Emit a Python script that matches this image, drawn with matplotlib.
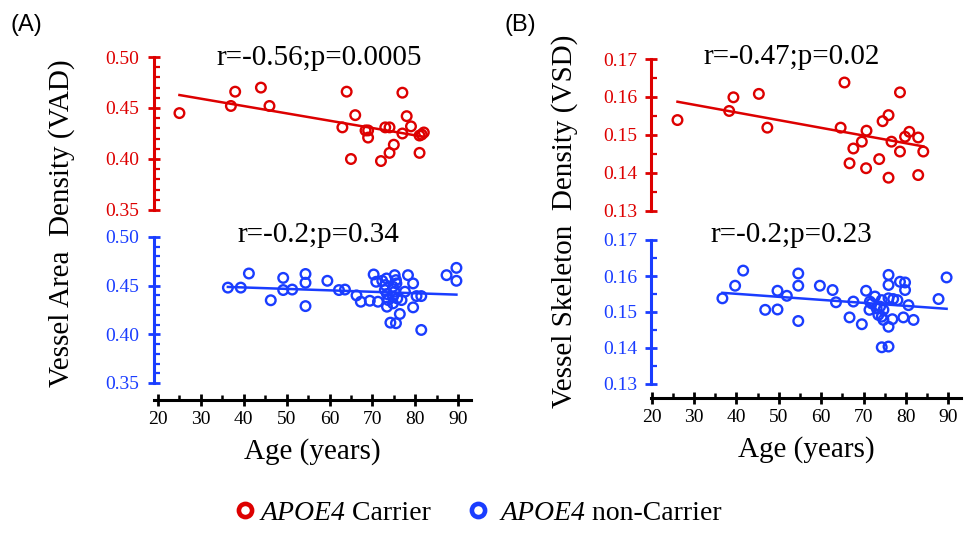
import numpy as np
import matplotlib
matplotlib.use("Agg")
import matplotlib.pyplot as plt
from matplotlib.ticker import MultipleLocator, FormatStrFormatter
from matplotlib.lines import Line2D

plt.rcParams['font.family'] = ['Liberation Serif', 'DejaVu Serif']

RED = '#dd0000'
BLUE = '#1a3dff'

# panel A: vessel area density (VAD)
a_car_age = [25, 37, 38, 44, 46, 63, 64, 65, 66, 68.4, 69, 69, 72, 73, 74, 74, 75,
             77, 77, 78, 79, 81, 81, 81.5, 82]
a_car_vad = [0.445, 0.452, 0.466, 0.470, 0.452, 0.431, 0.466, 0.400, 0.443, 0.428,
             0.428, 0.421, 0.398, 0.431, 0.431, 0.406, 0.414, 0.465, 0.425, 0.442,
             0.432, 0.423, 0.406, 0.424, 0.426]
a_non_age = [36.3, 39.3, 41.2, 46.3, 49.2, 49.2, 51.3, 54.4, 54.4, 54.4, 59.5, 62.2,
             63.6, 66.3, 67.3, 69.4, 70.3, 71.3, 70.9, 72.3, 73.0, 73.3, 72.9, 73.4,
             73.7, 73.4, 74.8, 74.8, 74.8, 75.2, 75.5, 75.6, 75.2, 75.8, 74.2, 75.5,
             76.4, 76.8, 77.6, 78.3, 79.5, 79.5, 80.3, 81.4, 81.4, 87.3, 89.6, 89.6]
a_non_vad = [0.448, 0.448, 0.4625, 0.435, 0.458, 0.4455, 0.446, 0.462, 0.453, 0.429,
             0.455, 0.4455, 0.446, 0.440, 0.4335, 0.4345, 0.4615, 0.4335, 0.454, 0.455,
             0.4506, 0.4574, 0.4455, 0.4414, 0.4352, 0.4284, 0.4318, 0.4386, 0.4489,
             0.4608, 0.4557, 0.4523, 0.4438, 0.4369, 0.412, 0.4114, 0.4209, 0.4352,
             0.4438, 0.4608, 0.4523, 0.4277, 0.4393, 0.4393, 0.4045, 0.4608, 0.4683,
             0.455]

# panel B: vessel skeleton density (VSD)
b_car_age = [26.1, 38.3, 39.3, 45.3, 47.3, 65.5, 64.6, 66.7, 67.6, 69.6, 70.7, 70.6,
             73.7, 74.5, 75.9, 75.9, 76.6, 78.6, 78.6, 79.8, 80.8, 82.9, 82.9, 84.1]
b_car_vsd = [0.1539, 0.1563, 0.1599, 0.1608, 0.1519, 0.1638, 0.1519, 0.1425, 0.1464,
             0.1482, 0.1511, 0.1412, 0.1436, 0.1536, 0.1552, 0.1387, 0.1482, 0.1612,
             0.1456, 0.1495, 0.1508, 0.1493, 0.1394, 0.1456]
b_non_age = [36.7, 39.7, 41.6, 46.8, 49.7, 49.7, 51.9, 54.6, 54.6, 54.6, 59.7, 62.7,
             63.5, 66.7, 67.6, 69.6, 70.6, 71.4, 71.5, 72.7, 71.9, 73.1, 73.5, 73.9,
             74.3, 74.3, 74.7, 74.7, 74.3, 75.9, 75.9, 75.9, 75.9, 75.9, 76.8, 77.0,
             78.0, 78.6, 79.8, 79.8, 79.4, 80.6, 81.8, 87.7, 89.6]
b_non_vsd = [0.1538, 0.1573, 0.1615, 0.1506, 0.1559, 0.1507, 0.1545, 0.1607, 0.1573,
             0.1475, 0.1573, 0.1561, 0.1527, 0.1485, 0.1529, 0.1466, 0.1559, 0.1506,
             0.1529, 0.1543, 0.1524, 0.151, 0.1492, 0.1515, 0.1533, 0.1487, 0.1478,
             0.1506, 0.1402, 0.1404, 0.1603, 0.1575, 0.1538, 0.1459, 0.148, 0.1536,
             0.1533, 0.1584, 0.1582, 0.1561, 0.1485, 0.1519, 0.1478, 0.1536, 0.1596]

stats = {'A': ("r=-0.56;p=0.0005", "r=-0.2;p=0.34"),
         'B': ("r=-0.47;p=0.02", "r=-0.2;p=0.23")}

W, H = 964, 533
fig = plt.figure(figsize=(W / 100, H / 100), dpi=100)


def px_box(l, r, t, b):
    return [l / W, 1 - b / H, (r - l) / W, (b - t) / H]


def style_y(ax, col, xlim, ylim, major, minor):
    for s in ('top', 'right'):
        ax.spines[s].set_visible(False)
    ax.spines['left'].set_color(col)
    ax.spines['left'].set_linewidth(2.2)
    ax.set_xlim(*xlim)
    ax.set_ylim(*ylim)
    ax.yaxis.set_major_locator(MultipleLocator(major))
    ax.yaxis.set_minor_locator(MultipleLocator(minor))
    ax.yaxis.set_major_formatter(FormatStrFormatter('%.2f'))
    ax.tick_params(axis='y', which='major', direction='inout', length=8, width=2,
                   color=col, labelcolor=col, labelsize=14, pad=6)
    ax.tick_params(axis='y', which='minor', direction='in', length=4, width=1.6, color=col)
    ax.patch.set_alpha(0)


def scatter_fit(ax, x, y, col):
    ax.scatter(x, y, s=48, facecolors='none', edgecolors=col, linewidths=1.7,
               clip_on=False, zorder=3)
    k, b0 = np.polyfit(x, y, 1)
    xx = np.array([min(x), max(x)])
    ax.plot(xx, k * xx + b0, color=col, lw=1.8, zorder=2)


def panel(l, r, xlim, red_tb, blue_tb, x_off, car, non, ylim, major, minor, txt,
          txt_x, txt_y):
    top = fig.add_axes(px_box(l, r, *red_tb))
    bot = fig.add_axes(px_box(l, r, *blue_tb))
    style_y(top, RED, xlim, ylim, major, minor)
    style_y(bot, BLUE, xlim, ylim, major, minor)
    top.spines['bottom'].set_visible(False)
    top.tick_params(axis='x', which='both', bottom=False, labelbottom=False)
    # shared age axis drawn below the blue block
    bot.spines['bottom'].set_position(('outward', x_off * 0.72))
    bot.spines['bottom'].set_linewidth(2.2)
    bot.xaxis.set_minor_locator(MultipleLocator(5))
    bot.tick_params(axis='x', which='major', direction='inout', length=8, width=2,
                    labelsize=14, pad=4)
    bot.tick_params(axis='x', which='minor', direction='in', length=3.5, width=1.8)
    bot.set_xticks(range(20, 91, 10))
    bot.set_xlabel("Age (years)", fontsize=21, labelpad=7)
    scatter_fit(top, *car, RED)
    scatter_fit(bot, *non, BLUE)
    top.text(txt_x, txt_y[0], txt[0], fontsize=21, ha='center', va='center',
             clip_on=False)
    bot.text(txt_x, txt_y[1], txt[1], fontsize=21, ha='center', va='center',
             clip_on=False)


panel(153.5, 471, (18.95, 93), (57, 210), (237, 383), 17, (a_car_age, a_car_vad),
      (a_non_age, a_non_vad), (0.35, 0.50), 0.05, 0.01, stats['A'],
      57.5, (0.4995, 0.502))
panel(651, 961, (19.85, 93), (59, 210.7), (240, 384), 14, (b_car_age, b_car_vsd),
      (b_non_age, b_non_vsd), (0.13, 0.17), 0.01, 0.005, stats['B'],
      53.0, (0.1705, 0.1714))

fig.text(62 / W, 1 - 223 / H, "Vessel Area  Density (VAD)", rotation=90,
         fontsize=21, ha='center', va='center')
fig.text(565 / W, 1 - 221 / H, "Vessel Skeleton  Density (VSD)", rotation=90,
         fontsize=21, ha='center', va='center')
fig.text(10 / W, 1 - 25 / H, "(A)", family='Liberation Sans', fontsize=17,
         ha='left', va='center')
fig.text(505 / W, 1 - 25 / H, "(B)", family='Liberation Sans', fontsize=17,
         ha='left', va='center')

# legend: italic gene name followed by upright group name
legs = []
for col, suffix, left, gap in ((RED, " Carrier", 231, 0.05),
                               (BLUE, " non-Carrier", 464, 0.3)):
    h = Line2D([], [], ls='none', marker='o', ms=9.5, mfc='none', mec=col, mew=3.3)
    leg = fig.legend([h], ["APOE4"], loc='center left',
                     bbox_to_anchor=(left / W, 1 - 513 / H), frameon=False,
                     prop={'family': 'Liberation Serif', 'style': 'italic', 'size': 20},
                     handlelength=1, handletextpad=gap, borderpad=0, borderaxespad=0)
    legs.append((leg, suffix))

fig.canvas.draw()
for leg, suffix in legs:
    bb = leg.get_texts()[0].get_window_extent()
    fig.text(bb.x1 / W, bb.y0 / H, suffix, ha='left', va='bottom', fontsize=20)

fig.savefig("out.png", dpi=100)
